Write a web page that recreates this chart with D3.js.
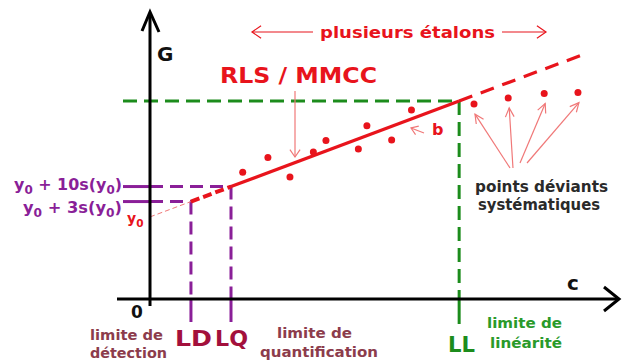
<!DOCTYPE html>
<html><head><meta charset="utf-8">
<script src="https://cdn.jsdelivr.net/npm/d3@7"></script>
<style>html,body{margin:0;padding:0;background:#fff;}svg{display:block;font-family:"DejaVu Sans",Verdana,sans-serif;font-weight:bold;}</style>
</head><body>
<script>
// ---- data (concentration units on x, signal units on y) ----
const intercept = 17.1;          // y0
const slope = 0.3515;            // b
const limitNames = ["LD", "LQ", "LL"];
const limitValues = [9.1, 18.0, 68.7];
const lineEnd = 95.6;
const calibX = [20.6, 26.2, 31.1, 36.3, 39.1, 46.3, 48.2, 53.7, 58.1];
const calibY = [26.4, 29.5, 25.4, 30.6, 33.0, 31.25, 36.1, 33.1, 39.4];
const deviantX = [72.0, 79.6, 87.6, 95.1];
const deviantY = [40.6, 41.9, 42.8, 43.0];

const W = 622, H = 363;
const svg = d3.select("body").append("svg").attr("width", W).attr("height", H);
const x = d3.scaleLinear().domain([0, 100]).range([150, 600]);
const y = d3.scaleLinear().domain([0, 60]).range([299, 11]);
const fit = c => intercept + slope * c;

const RED = "#e8141c", PINK = "#f07878", PURPLE = "#8a1f98", GREEN = "#1c8c1c";
const [LD, LQ, LL] = limitValues;

function seg(x1, y1, x2, y2, color, w, dash) {
  const l = svg.append("line").attr("x1", x1).attr("y1", y1).attr("x2", x2).attr("y2", y2)
    .attr("stroke", color).attr("stroke-width", w);
  if (dash) l.attr("stroke-dasharray", dash);
  return l;
}
function arrow(x1, y1, x2, y2, color, w, head, spread) {
  seg(x1, y1, x2, y2, color, w);
  const a = Math.atan2(y2 - y1, x2 - x1), s = spread || 0.55;
  const p = [[x2 - head * Math.cos(a - s), y2 - head * Math.sin(a - s)], [x2, y2],
             [x2 - head * Math.cos(a + s), y2 - head * Math.sin(a + s)]];
  svg.append("path").attr("d", d3.line()(p)).attr("fill", "none").attr("stroke", color)
    .attr("stroke-width", w).attr("stroke-linejoin", "miter");
}
function label(parts, px, py, o) {
  const t = svg.append("text").attr("x", px).attr("y", py).attr("fill", o.color)
    .attr("font-size", o.size).attr("text-anchor", o.anchor || "start");
  (Array.isArray(parts) ? parts : [[parts]]).forEach(p => {
    const ts = t.append("tspan").text(p[0]);
    if (p[1]) ts.attr("font-size", o.size * 0.75).attr("dy", 4);
    if (p[2]) ts.attr("dy", -4);
  });
  if (o.width) t.attr("textLength", o.width).attr("lengthAdjust", "spacingAndGlyphs");
  return t;
}

// ---- green limit of linearity ----
seg(123, y(fit(LL)), x(LL), y(fit(LL)), GREEN, 3, "14,7");
seg(x(LL), y(fit(LL)), x(LL), y(0), GREEN, 3, "14,7");
seg(x(LL), y(0), x(LL), 324, GREEN, 3);

// ---- purple LD / LQ ----
[[LD, fit(LD)], [LQ, fit(LQ)]].forEach(([c, g]) => {
  seg(123, y(g), 150, y(g), PURPLE, 3);
  seg(150, y(g), x(c), y(g), PURPLE, 3, "13,7");
  seg(x(c), y(g), x(c), y(0), PURPLE, 3, "13,7");
  seg(x(c), y(0), x(c), 322, PURPLE, 3);
});

// ---- regression line ----
seg(x(0), y(intercept), x(LD), y(fit(LD)), PINK, 1, "5,3");
seg(x(LD), y(fit(LD)), x(LQ), y(fit(LQ)), RED, 4, "9,4");
seg(x(LQ), y(fit(LQ)), x(LL), y(fit(LL)), RED, 3.2);
seg(x(LL), y(fit(LL)), x(lineEnd), y(fit(lineEnd)), RED, 3.2, "14,9");

// ---- axes ----
seg(117, y(0), 618, y(0), "#000", 3);
seg(x(0), 306, x(0), 13, "#000", 3);
svg.append("path").attr("d", d3.line()([[604, y(0) - 12], [619, y(0)], [604, y(0) + 12]]))
  .attr("fill", "none").attr("stroke", "#000").attr("stroke-width", 3);
svg.append("path").attr("d", d3.line()([[x(0) - 8, 31], [x(0), 12], [x(0) + 9, 32]]))
  .attr("fill", "none").attr("stroke", "#000").attr("stroke-width", 3);

// ---- points ----
svg.selectAll("circle.cal").data(calibX).join("circle").attr("class", "cal")
  .attr("cx", d => x(d)).attr("cy", (d, i) => y(calibY[i])).attr("r", 3.5).attr("fill", RED);
svg.selectAll("circle.dev").data(deviantX).join("circle").attr("class", "dev")
  .attr("cx", d => x(d)).attr("cy", (d, i) => y(deviantY[i])).attr("r", 3.5).attr("fill", RED);

// ---- annotation arrows ----
const starts = [[510, 168], [513, 168], [520, 163], [527, 163]];
deviantX.forEach((d, i) => arrow(starts[i][0], starts[i][1], x(d) + 1, y(deviantY[i]) + 10, PINK, 1.2, 10, 0.45));
arrow(295, 91, 295, 157, PINK, 1.2, 9, 0.6);
arrow(424, 133, 411, 128, PINK, 1.2, 8, 0.6);
arrow(313, 32, 252, 32, RED, 1.2, 11, 0.6);
arrow(502, 32, 546, 32, RED, 1.2, 11, 0.6);

// ---- texts ----
label("plusieurs étalons", 320, 38, {color: RED, size: 16, width: 175});
label("RLS / MMCC", 220, 83, {color: RED, size: 21, width: 157});
label("b", 432, 135, {color: RED, size: 16});
label("G", 157, 61, {color: "#111", size: 20});
label("c", 567, 290, {color: "#111", size: 20});
label("0", 137, 318, {color: "#111", size: 17, anchor: "middle"});
label([["y"], ["0", 1], [" + 10s(y", 0, 1], ["0", 1], [")", 0, 1]], 122, 190, {color: PURPLE, size: 16, anchor: "end", width: 108});
label([["y"], ["0", 1], [" + 3s(y", 0, 1], ["0", 1], [")", 0, 1]], 122, 213, {color: PURPLE, size: 16, anchor: "end", width: 99});
label([["y"], ["0", 1]], 127, 223, {color: RED, size: 14});
label("points déviants", 475, 192, {color: "#2a2a2a", size: 15, width: 133});
label("systématiques", 478, 210, {color: "#2a2a2a", size: 15, width: 122});
label("limite de", 90, 340, {color: "#8c3c4c", size: 14, width: 73});
label("détection", 90, 358, {color: "#8c3c4c", size: 14, width: 77});
label("limite de", 277, 338, {color: "#8c3c4c", size: 14, width: 75});
label("quantification", 260, 357, {color: "#8c3c4c", size: 14, width: 118});
label("limite de", 487, 328, {color: "#2a9a2a", size: 14, width: 75});
label("linéarité", 490, 348, {color: "#2a9a2a", size: 14, width: 72});
label(limitNames[0], 175, 346, {color: "#a3103c", size: 22, width: 37});
label(limitNames[1], 215, 346, {color: "#a3103c", size: 22, width: 33});
label(limitNames[2], 448, 352, {color: GREEN, size: 22, width: 27});
</script>
</body></html>
